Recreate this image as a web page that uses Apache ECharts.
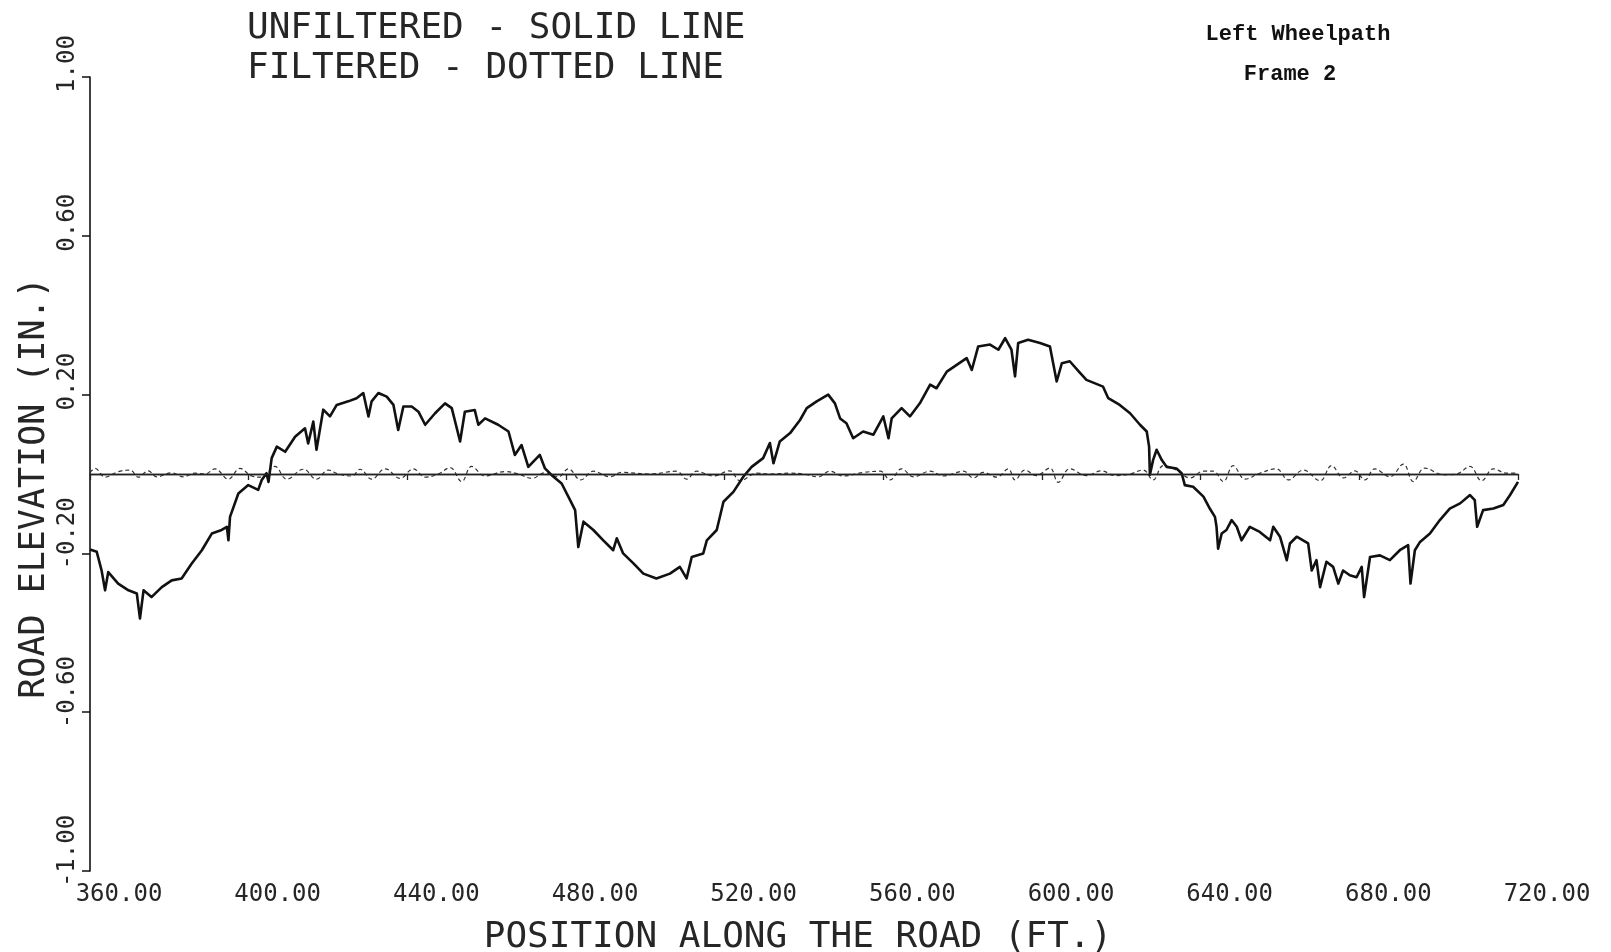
<!DOCTYPE html>
<html>
<head>
<meta charset="utf-8">
<script src="https://cdn.jsdelivr.net/npm/echarts@6/dist/echarts.min.js"></script>
<style>
html,body{margin:0;padding:0;background:#fff;}
#chart{width:1611px;height:952px;}
</style>
</head>
<body>
<div id="chart"></div>
<script>
// ---- Data ----
const titleLines = ['UNFILTERED - SOLID LINE', 'FILTERED - DOTTED LINE'];
const noteLines = ['Left Wheelpath', 'Frame 2'];
const xAxisTitle = 'POSITION ALONG THE ROAD (FT.)';
const yAxisTitle = 'ROAD ELEVATION (IN.)';
const yTickValues = [-1.0, -0.6, -0.2, 0.2, 0.6, 1.0];
const zeroLevel = 0;

const unfilteredFt = [360.0,361.7,362.9,363.8,364.6,367.1,369.7,371.8,372.6,373.5,375.5,378.1,380.6,383.1,385.6,388.2,390.7,393.2,394.5,394.9,395.3,397.4,399.9,402.4,403.3,404.5,405.0,405.8,407.1,409.2,411.7,414.2,415.0,416.3,417.1,418.8,420.5,422.2,425.1,427.2,428.9,430.2,431.0,432.7,434.8,436.5,437.7,439.0,441.1,442.8,444.5,447.0,449.5,451.2,453.3,454.5,457.0,457.9,459.6,462.9,465.5,467.1,468.8,470.5,473.4,474.7,476.4,478.9,481.0,482.3,483.1,484.4,486.9,489.4,491.9,492.8,494.4,497.0,499.5,502.8,506.2,508.7,510.4,511.7,514.6,515.5,518.0,519.7,522.2,524.7,526.8,529.7,531.4,532.3,533.9,536.5,539.0,540.7,543.2,546.1,547.8,549.1,550.7,552.4,554.9,557.5,560.0,561.3,562.1,564.6,566.7,569.2,571.8,573.4,576.0,578.5,581.0,582.3,583.9,586.9,589.0,590.7,592.3,593.2,594.0,596.5,599.5,602.0,603.7,605.0,607.0,609.3,611.2,615.4,616.7,619.6,622.2,624.7,626.4,627.0,627.2,628.0,628.9,630.2,631.4,633.9,635.2,636.0,638.1,640.7,642.3,643.6,644.0,644.4,645.3,646.5,647.8,649.1,650.3,652.4,654.9,657.5,658.3,660.0,661.7,662.5,664.2,667.1,668.0,669.2,670.1,671.7,673.4,674.7,675.9,677.6,679.3,680.6,681.2,682.7,685.2,687.7,690.2,692.3,692.9,694.0,695.3,697.8,700.3,702.8,705.4,707.9,709.1,709.7,711.2,713.8,716.3,718.0,720.0];
const unfilteredIn = [-0.19,-0.196,-0.242,-0.293,-0.247,-0.276,-0.293,-0.301,-0.364,-0.293,-0.31,-0.285,-0.268,-0.263,-0.226,-0.192,-0.15,-0.141,-0.133,-0.167,-0.108,-0.049,-0.028,-0.04,-0.015,0.002,-0.02,0.04,0.069,0.056,0.094,0.115,0.077,0.132,0.061,0.162,0.145,0.174,0.183,0.191,0.204,0.145,0.183,0.204,0.195,0.174,0.111,0.17,0.17,0.157,0.124,0.153,0.178,0.166,0.082,0.157,0.161,0.124,0.14,0.124,0.107,0.048,0.073,0.018,0.048,0.014,-0.003,-0.024,-0.065,-0.091,-0.184,-0.12,-0.141,-0.167,-0.192,-0.162,-0.2,-0.225,-0.251,-0.263,-0.251,-0.234,-0.263,-0.209,-0.2,-0.167,-0.141,-0.07,-0.045,-0.007,0.018,0.04,0.078,0.027,0.082,0.103,0.136,0.166,0.183,0.2,0.178,0.14,0.128,0.09,0.107,0.099,0.145,0.09,0.14,0.166,0.145,0.178,0.225,0.216,0.258,0.275,0.292,0.262,0.321,0.326,0.313,0.342,0.313,0.246,0.33,0.338,0.33,0.321,0.233,0.279,0.284,0.258,0.237,0.22,0.191,0.174,0.153,0.124,0.107,0.069,-0.002,0.035,0.061,0.035,0.018,0.014,0.002,-0.028,-0.032,-0.057,-0.087,-0.108,-0.133,-0.188,-0.15,-0.141,-0.116,-0.133,-0.167,-0.133,-0.146,-0.167,-0.133,-0.158,-0.217,-0.175,-0.158,-0.175,-0.243,-0.217,-0.285,-0.221,-0.234,-0.276,-0.243,-0.255,-0.26,-0.234,-0.31,-0.209,-0.205,-0.217,-0.192,-0.179,-0.276,-0.192,-0.171,-0.15,-0.116,-0.087,-0.074,-0.053,-0.066,-0.133,-0.091,-0.087,-0.078,-0.053,-0.02];

const filteredFt = [360.0,361.3,363.8,367.1,370.1,372.2,374.7,376.8,380.6,383.5,386.5,389.0,391.5,394.9,397.8,400.8,403.3,406.6,409.6,413.8,417.1,420.1,422.6,426.0,428.1,431.0,434.4,438.2,441.5,444.5,447.8,450.8,453.7,456.2,459.6,464.6,468.0,471.4,474.7,478.1,480.6,483.7,486.9,491.1,494.0,501.2,507.9,510.4,512.9,517.1,521.3,523.9,528.1,531.4,536.5,539.8,543.6,546.5,549.9,555.0,559.2,561.7,564.6,567.6,571.8,575.1,580.2,582.7,585.2,588.6,591.5,593.2,595.7,598.6,602.0,604.1,607.0,611.2,615.0,618.4,622.2,625.5,628.0,630.6,633.9,637.3,640.7,643.2,645.7,648.2,651.2,654.9,659.1,662.1,665.9,670.1,673.0,676.0,678.9,681.4,683.9,687.7,691.1,693.6,696.5,701.2,704.5,707.9,710.8,713.8,717.1,720.0];
const filteredIn = [0.003,0.014,-0.008,0.006,0.01,-0.008,0.008,-0.007,0.003,-0.007,0.002,0,0.013,-0.013,0.014,-0.005,-0.008,0.019,-0.013,0.012,-0.013,0.01,0,-0.005,0.012,-0.013,0.013,-0.011,0.013,-0.008,0,0.016,-0.019,0.019,-0.005,0.006,0,-0.011,0.003,-0.007,0.013,-0.015,0.007,-0.007,0.004,0,0.007,-0.013,0.007,-0.005,0.008,-0.017,0.002,0,0.002,0,-0.007,0.007,-0.005,0.004,0.007,-0.015,0.013,-0.007,0.007,-0.005,0.007,-0.01,0.004,-0.008,0.013,-0.015,0.01,-0.004,0.015,-0.021,0.013,-0.004,0.008,-0.004,0,0.01,-0.015,0.021,0.01,-0.01,0.007,0.007,-0.019,0.021,-0.013,0.002,0.013,-0.015,0.01,-0.017,0.021,-0.01,0.008,-0.015,0.013,-0.007,0.025,-0.019,0.015,-0.002,0,0.019,-0.017,0.013,0.002,0.002];

// ---- Chart ----
const zip = (xs, ys) => xs.map((x, i) => [x, ys[i]]);
const plotFont = '"DejaVu Sans Mono", monospace';
const ink = '#262626';

const chart = echarts.init(document.getElementById('chart'), null, {renderer: 'canvas'});
chart.setOption({
  animation: false,
  backgroundColor: '#ffffff',
  title: [
    {
      text: titleLines.join('\n'),
      left: 242, top: 4,
      textStyle: {fontFamily: plotFont, fontSize: 36, fontWeight: 'normal', color: ink, lineHeight: 40}
    },
    {
      text: noteLines[0],
      left: 1293, top: 18, textAlign: 'center',
      textStyle: {fontFamily: '"Liberation Mono", monospace', fontSize: 22, fontWeight: 'bold', color: '#111'}
    },
    {
      text: noteLines[1],
      left: 1285, top: 58, textAlign: 'center',
      textStyle: {fontFamily: '"Liberation Mono", monospace', fontSize: 22, fontWeight: 'bold', color: '#111'}
    }
  ],
  grid: {left: 90, right: 93, top: 77, bottom: 81, containLabel: false, outerBoundsMode: 'none'},
  xAxis: {
    type: 'value', min: 360, max: 720, interval: 40,
    name: xAxisTitle, nameLocation: 'middle', nameGap: 49, nameMoveOverlap: false,
    nameTextStyle: {fontFamily: plotFont, fontSize: 36, color: ink, padding: [0, 12, 0, 0]},
    axisLine: {show: true, lineStyle: {color: '#333', width: 1.3}},
    axisTick: {show: true, inside: false, length: 6, lineStyle: {color: '#222', width: 1.3}},
    axisLabel: {
      fontFamily: plotFont, fontSize: 24, color: ink, margin: 12,
      align: 'center', padding: [0, 0, 0, 58],
      formatter: v => v.toFixed(2)
    },
    splitLine: {show: false}
  },
  yAxis: {
    type: 'value', min: -1, max: 1,
    name: yAxisTitle, nameLocation: 'middle', nameGap: 38, nameRotate: 90, nameMoveOverlap: false,
    nameTextStyle: {fontFamily: plotFont, fontSize: 35, color: ink, padding: [0, 28, 0, 0]},
    axisLine: {show: true, lineStyle: {color: '#111', width: 1.6}},
    axisTick: {show: true, inside: false, length: 8, customValues: yTickValues, lineStyle: {color: '#111', width: 1.5}},
    axisLabel: {
      fontFamily: plotFont, fontSize: 24, color: ink, margin: 10, rotate: 90,
      customValues: yTickValues,
      formatter: v => {
        const s = (Math.abs(v) < 1e-9 ? 0 : v).toFixed(2);
        return s.length > 4 ? '{b|' + s + '}' : '{a|' + s + '}';
      },
      rich: {
        a: {fontFamily: plotFont, fontSize: 24, color: ink, padding: [0, 0, 0, 26]},
        b: {fontFamily: plotFont, fontSize: 24, color: ink, padding: [0, 0, 0, 40]}
      }
    },
    splitLine: {show: false}
  },
  series: [
    {
      name: 'Filtered', type: 'line', data: zip(filteredFt, filteredIn),
      showSymbol: false, smooth: 0.4, z: 2,
      lineStyle: {color: '#333', width: 1.2, type: [4, 3]},
      markLine: {
        silent: true, symbol: 'none', label: {show: false},
        lineStyle: {color: '#222', width: 1.3, type: 'solid'},
        data: [{yAxis: zeroLevel}]
      }
    },
    {
      name: 'Unfiltered', type: 'line', data: zip(unfilteredFt, unfilteredIn),
      showSymbol: false, z: 3,
      lineStyle: {color: '#111', width: 2.6, join: 'round'}
    }
  ]
});
</script>
</body>
</html>
